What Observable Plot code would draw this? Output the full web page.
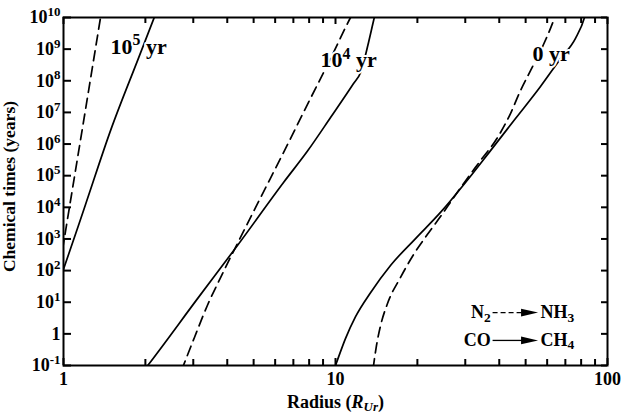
<!DOCTYPE html>
<html><head><meta charset="utf-8">
<script src="https://cdn.jsdelivr.net/npm/d3@7"></script>
<script src="https://cdn.jsdelivr.net/npm/@observablehq/plot@0.6"></script>
<style>html,body{margin:0;padding:0;background:#fff;} svg{display:block;}</style>
</head><body><div id="chart"></div>
<script>
// ---- axis ticks ----
const xMajorTicks = [1, 10, 100];
const xMajorLabels = ["1", "10", "100"];
const xMinorTicks = [2, 3, 4, 5, 6, 7, 8, 9, 20, 30, 40, 50, 60, 70, 80, 90];
const yTicks = [1e-1, 1, 1e1, 1e2, 1e3, 1e4, 1e5, 1e6, 1e7, 1e8, 1e9, 1e10];
const yTickLabels = ["10^{-1}", "1", "10^{1}", "10^{2}", "10^{3}", "10^{4}", "10^{5}", "10^{6}", "10^{7}", "10^{8}", "10^{9}", "10^{10}"];

// ---- curves: radius (R_Ur) and chemical time (years) ----
// CO -> CH4 (solid), N2 -> NH3 (dashed); at 10^5 yr, 10^4 yr and 0 yr
const r_CO_1e5 = [0.97, 1.0, 1.2, 1.49, 1.89, 2.16];
const t_CO_1e5 = [5.2e1, 1.1e2, 1.1e4, 2.7e6, 5.4e8, 1.05e10];
const r_N2_1e5 = [0.97, 1.0, 1.1, 1.2, 1.37];
const t_N2_1e5 = [1.4e2, 7.1e2, 1.05e5, 1.0e7, 1.07e10];

const r_CO_1e4 = [1.973, 2.04, 3.11, 4.36, 6.44, 7.89, 9.59, 11.65, 12.36, 13.22, 13.8, 14.03];
const t_CO_1e4 = [6.9e-2, 1.0e-1, 1.3e1, 6.2e2, 6.1e4, 6.0e5, 6.9e6, 8.2e7, 1.8e8, 1.6e9, 7.9e9, 1.45e10];
const r_N2_1e4 = [2.715, 2.76, 3.03, 3.38, 3.78, 4.36, 5.30, 6.44, 7.89, 9.59, 11.36, 11.6];
const t_N2_1e4 = [6.95e-2, 1.0e-1, 7.7e-1, 7.9, 6.0e1, 7.2e2, 2.0e4, 5.4e5, 1.8e7, 5.0e8, 1.0e10, 1.4e10];

const r_CO_0 = [9.9, 10.0, 10.88, 11.85, 13.45, 15.93, 19.69, 24.32, 30.06, 37.15, 45.9, 56.71, 67.18, 76.27, 82.31, 83.5];
const t_CO_0 = [7.9e-2, 1.0e-1, 7.1e-1, 3.5, 2.0e1, 1.45e2, 1.03e3, 6.9e3, 6.1e4, 6.2e5, 6.4e6, 6.6e7, 5.0e8, 2.2e9, 1.0e10, 1.6e10];
const r_N2_0 = [13.75, 13.8, 14.15, 14.64, 15.53, 17.34, 19.36, 21.79, 24.32, 27.16, 29.55, 34.13, 39.41, 43.99, 47.87, 52.12, 58.17, 63.32, 64.4];
const t_N2_0 = [7.9e-2, 1.0e-1, 4.3e-1, 1.8, 9.1, 6.1e1, 3.2e2, 1.4e3, 5.1e3, 2.0e4, 5.6e4, 3.0e5, 1.6e6, 9.2e6, 4.9e7, 2.1e8, 1.4e9, 8.0e9, 1.2e10];

// ---- curve labels ----
const curveLabels = ["10^{5} yr", "10^{4} yr", "0 yr"];
const curveLabelR = [1.49, 8.81, 53.0];
const curveLabelT = [1.2e9, 4.4e8, 7.2e8];

// ---- legend ----
const legendFrom = ["N_{2}", "CO"];
const legendTo = ["NH_{3}", "CH_{4}"];

const xTitle = "Radius (~{R}={Ur})";
const yTitle = "Chemical times (years)";

const curves = [
  {name: "CO 1e5", r: r_CO_1e5, t: t_CO_1e5, dashed: false},
  {name: "N2 1e5", r: r_N2_1e5, t: t_N2_1e5, dashed: true},
  {name: "CO 1e4", r: r_CO_1e4, t: t_CO_1e4, dashed: false},
  {name: "N2 1e4", r: r_N2_1e4, t: t_N2_1e4, dashed: true},
  {name: "CO 0", r: r_CO_0, t: t_CO_0, dashed: false},
  {name: "N2 0", r: r_N2_0, t: t_N2_0, dashed: true}
];
const rows = curves.flatMap(c => c.r.map((r, i) => ({r, t: c.t[i], name: c.name, dashed: c.dashed})));

const W = 624, H = 417, ML = 63, MR = 17, MT = 17, MB = 52;
const PW = W - ML - MR, PH = H - MT - MB;
const FONT = "'Liberation Serif', 'Times New Roman', serif";
const X0 = 1, X1 = 100, Y0 = 0.1, Y1 = 1e10;

// tick lengths in pixels, expressed as multiplicative factors on the log scales
const fy = px => Math.pow(10, px * Math.log10(Y1 / Y0) / PH);
const fx = px => Math.pow(10, px * Math.log10(X1 / X0) / PW);

const triRight = {
  draw(ctx, size) {
    const w = Math.sqrt(size);
    ctx.moveTo(w, 0);
    ctx.lineTo(-w, -w * 0.45);
    ctx.lineTo(-w, w * 0.45);
    ctx.closePath();
  }
};

const legendY = [4.7, 0.62];
const tk = {stroke: "black", strokeWidth: 2};

const plot = Plot.plot({
  width: W, height: H,
  marginLeft: ML, marginRight: MR, marginTop: MT, marginBottom: MB,
  x: {type: "log", domain: [X0, X1]},
  y: {type: "log", domain: [Y0, Y1]},
  style: {fontFamily: FONT, fontWeight: "bold", fontSize: "18px"},
  marks: [
    // inward ticks on all four sides
    Plot.ruleX(xMajorTicks, {x: d => d, y1: Y0, y2: Y0 * fy(7), ...tk}),
    Plot.ruleX(xMinorTicks, {x: d => d, y1: Y0, y2: Y0 * fy(6), ...tk}),
    Plot.ruleX(xMajorTicks, {x: d => d, y1: Y1, y2: Y1 / fy(7), ...tk}),
    Plot.ruleX(xMinorTicks, {x: d => d, y1: Y1, y2: Y1 / fy(6), ...tk}),
    Plot.ruleY(yTicks, {y: d => d, x1: X0, x2: X0 * fx(8), ...tk}),
    Plot.ruleY(yTicks, {y: d => d, x1: X1, x2: X1 / fx(6), ...tk}),
    // curves
    Plot.line(rows.filter(d => !d.dashed), {x: "r", y: "t", z: "name", stroke: "black", strokeWidth: 1.7, curve: "monotone-x", clip: true}),
    Plot.line(rows.filter(d => d.dashed), {x: "r", y: "t", z: "name", stroke: "black", strokeWidth: 1.7, strokeDasharray: "10,6", curve: "monotone-x", clip: true}),
    // curve labels with white halo
    Plot.text(curveLabels, {x: (d, i) => curveLabelR[i], y: (d, i) => curveLabelT[i], text: d => d, textAnchor: "start", fontSize: 22, fontWeight: "bold", fill: "black", stroke: "white", strokeWidth: 4, paintOrder: "stroke"}),
    // legend
    Plot.text(legendFrom, {x: 37.2, y: (d, i) => legendY[i], text: d => d, textAnchor: "end", fontSize: 18, fontWeight: "bold"}),
    Plot.text(legendTo, {x: 56.7, y: (d, i) => legendY[i], text: d => d, textAnchor: "start", fontSize: 18, fontWeight: "bold"}),
    Plot.link([legendFrom[0]], {x1: 37.8, x2: 49.0, y1: legendY[0], y2: legendY[0], stroke: "black", strokeWidth: 1.3, strokeDasharray: "5,3"}),
    Plot.link([legendFrom[1]], {x1: 37.8, x2: 49.0, y1: legendY[1], y2: legendY[1], stroke: "black", strokeWidth: 1.3}),
    Plot.dot(legendFrom, {x: 51.7, y: (d, i) => legendY[i], symbol: triRight, r: 4.8, fill: "black", stroke: "none"}),
    // axes labels
    Plot.axisX(xMajorTicks, {tickSize: 0, tickPadding: 7, tickFormat: d => xMajorLabels[xMajorTicks.indexOf(d)], fontSize: 18, fontWeight: "bold", label: null}),
    Plot.axisY(yTicks, {anchor: "left", tickSize: 0, tickPadding: 3, tickFormat: d => yTickLabels[yTicks.indexOf(d)], fontSize: 18, fontWeight: "bold", label: null}),
    // axis titles
    Plot.text([xTitle], {frameAnchor: "bottom", text: d => d, textAnchor: "middle", dy: 42, fontSize: 18, fontWeight: "bold"}),
    Plot.text([yTitle], {frameAnchor: "left", text: d => d, textAnchor: "middle", lineAnchor: "middle", rotate: -90, dx: -54, dy: -5, fontSize: 17.5, fontWeight: "bold"}),
    Plot.frame({stroke: "black", strokeWidth: 2})
  ]
});

document.getElementById("chart").appendChild(plot);

// rich text: ^{sup} _{sub} ~{italic} ={italic sub}
function richify(svg) {
  const NS = "http://www.w3.org/2000/svg";
  svg.querySelectorAll("text").forEach(t => {
    if (t.querySelector("tspan")) return;
    const s = t.textContent;
    if (!/[\^_~=]\{/.test(s)) return;
    const fs = parseFloat(getComputedStyle(t).fontSize) || 18;
    t.textContent = "";
    let off = 0;
    const re = /([\^_~=])\{([^}]*)\}|([^\^_~=]+)/g;
    let m;
    while ((m = re.exec(s))) {
      const ts = document.createElementNS(NS, "tspan");
      let target = 0, size = null, italic = false, txt;
      if (m[1]) {
        txt = m[2];
        if (m[1] === "^") { target = -0.4 * fs; size = 0.72 * fs; }
        else if (m[1] === "_") { target = 0.18 * fs; size = 0.75 * fs; }
        else if (m[1] === "~") { italic = true; }
        else { target = 0.22 * fs; size = 0.72 * fs; italic = true; }
      } else txt = m[3];
      if (target !== off) ts.setAttribute("dy", (target - off).toFixed(2));
      off = target;
      if (size) ts.setAttribute("font-size", size.toFixed(2));
      if (italic) ts.setAttribute("font-style", "italic");
      ts.textContent = txt;
      t.appendChild(ts);
    }
  });
}
richify(plot);
</script></body></html>
